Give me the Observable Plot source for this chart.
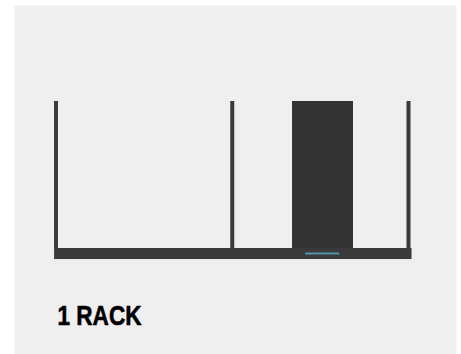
<!DOCTYPE html>
<html>
<head>
<meta charset="utf-8">
<script src="https://cdn.jsdelivr.net/npm/d3@7"></script>
<script src="https://cdn.jsdelivr.net/npm/@observablehq/plot@0.6"></script>
<style>
  html, body { margin: 0; padding: 0; background: #ffffff; }
</style>
</head>
<body>
<div id="chart"></div>
<script>
// Rack frame: uprights (posts), shelf base, occupied unit, indicator and label
const posts = [0, 50, 100];
const baseStart = [-0.4];
const baseEnd = [101];
const baseDepth = [-7.5];
const unitStart = [67.1];
const unitEnd = [84.4];
const unitHeight = [100];
const indicatorStart = [70.8];
const indicatorEnd = [80.5];
const indicatorLevel = [-3.4];
const labels = ["1 RACK"];

const base = baseStart.map((s, i) => ({x1: s, x2: baseEnd[i], y1: baseDepth[i], y2: 0}));
const units = unitStart.map((s, i) => ({x1: s, x2: unitEnd[i], y1: 0, y2: unitHeight[i]}));
const indicators = indicatorStart.map((s, i) => ({x1: s, x2: indicatorEnd[i], y: indicatorLevel[i]}));

const chart = Plot.plot({
  width: 461,
  height: 354,
  marginLeft: 14,
  marginTop: 5,
  marginRight: 5,
  marginBottom: 0,
  style: {background: "#ffffff"},
  x: {domain: [0, 100], range: [55.5, 408], axis: null},
  y: {domain: [0, 100], range: [248, 101], axis: null},
  marks: [
    Plot.frame({fill: "#efefef", stroke: null}),
    Plot.ruleX(posts, {x: d => d, y1: 0, y2: 100, stroke: "#3a3a3a", strokeWidth: 4}),
    Plot.rect(units, {x1: "x1", x2: "x2", y1: "y1", y2: "y2", fill: "#333333"}),
    Plot.rect(base, {x1: "x1", x2: "x2", y1: "y1", y2: "y2", fill: "#3a3a3a"}),
    Plot.ruleY(indicators, {x1: "x1", x2: "x2", y: "y", stroke: "#4f93a8", strokeWidth: 2}),
    Plot.text(labels, {
      text: d => d,
      frameAnchor: "bottom-left",
      textAnchor: "start",
      lineAnchor: "bottom",
      dx: 43,
      dy: -30,
      fontSize: 27,
      fontWeight: "bold",
      fontFamily: "Liberation Sans, Arial, sans-serif",
      fill: "#000000",
      stroke: "#000000",
      strokeWidth: 0.6
    })
  ]
});

d3.select(chart).selectAll("text")
  .filter(function() { return this.textContent === "1 RACK"; })
  .attr("textLength", 84)
  .attr("lengthAdjust", "spacingAndGlyphs");

document.getElementById("chart").appendChild(chart);
</script>
</body>
</html>
